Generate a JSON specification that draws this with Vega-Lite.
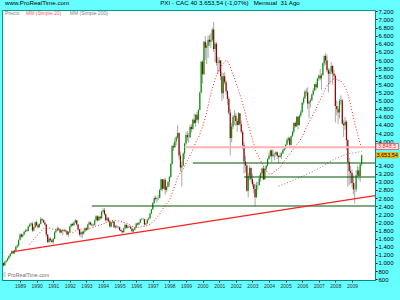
{
  "$schema": "https://vega.github.io/schema/vega-lite/v6.json",
  "autosize": {"type": "none"},
  "padding": {"left": 2, "top": 10, "right": 25, "bottom": 20},
  "width": 373,
  "height": 270,
  "background": "#66FFFF",
  "title": {
    "text": "www.ProRealTime.com\u00a0\u00a0\u00a0\u00a0\u00a0\u00a0\u00a0\u00a0\u00a0\u00a0\u00a0\u00a0\u00a0\u00a0\u00a0\u00a0\u00a0\u00a0\u00a0\u00a0\u00a0\u00a0\u00a0\u00a0\u00a0\u00a0\u00a0\u00a0\u00a0\u00a0\u00a0\u00a0\u00a0\u00a0\u00a0\u00a0\u00a0\u00a0\u00a0\u00a0\u00a0\u00a0\u00a0\u00a0\u00a0\u00a0\u00a0\u00a0\u00a0\u00a0\u00a0\u00a0\u00a0PXI - CAC 40 3.653,54 (-1,07%)\u00a0\u00a0\u00a0Mensual\u00a0 31 Ago",
    "anchor": "start",
    "dx": 3,
    "dy": 6,
    "offset": 2,
    "baseline": "bottom",
    "fontSize": 6.2,
    "fontWeight": "normal",
    "font": "Liberation Sans",
    "color": "#000000"
  },
  "config": {
    "view": {"stroke": "#009999", "fill": "#FFFFFF"},
    "font": "Liberation Sans",
    "axis": {"labelOverlap": false, "labelFlush": false, "grid": false, "tickCount": 100}
  },
  "data": {"values": [
    {"d":"1988-01-01","o":1000,"h":1010,"l":910,"c":940},
    {"d":"1988-02-01","o":940,"h":1040,"l":930,"c":1030},
    {"d":"1988-03-01","o":1030,"h":1080,"l":1010,"c":1060},
    {"d":"1988-04-01","o":1060,"h":1130,"l":1040,"c":1110},
    {"d":"1988-05-01","o":1110,"h":1190,"l":1090,"c":1170},
    {"d":"1988-06-01","o":1170,"h":1250,"l":1150,"c":1230},
    {"d":"1988-07-01","o":1230,"h":1310,"l":1210,"c":1290},
    {"d":"1988-08-01","o":1290,"h":1310,"l":1220,"c":1240},
    {"d":"1988-09-01","o":1240,"h":1330,"l":1220,"c":1310},
    {"d":"1988-10-01","o":1310,"h":1420,"l":1290,"c":1400},
    {"d":"1988-11-01","o":1400,"h":1460,"l":1370,"c":1430},
    {"d":"1988-12-01","o":1430,"h":1580,"l":1410,"c":1573},
    {"d":"1989-01-01","o":1573,"h":1720,"l":1560,"c":1700},
    {"d":"1989-02-01","o":1700,"h":1730,"l":1620,"c":1650},
    {"d":"1989-03-01","o":1650,"h":1720,"l":1630,"c":1700},
    {"d":"1989-04-01","o":1700,"h":1790,"l":1680,"c":1770},
    {"d":"1989-05-01","o":1770,"h":1830,"l":1750,"c":1800},
    {"d":"1989-06-01","o":1800,"h":1840,"l":1760,"c":1790},
    {"d":"1989-07-01","o":1790,"h":1920,"l":1780,"c":1900},
    {"d":"1989-08-01","o":1900,"h":1980,"l":1880,"c":1950},
    {"d":"1989-09-01","o":1950,"h":2000,"l":1920,"c":1970},
    {"d":"1989-10-01","o":1970,"h":2010,"l":1760,"c":1800},
    {"d":"1989-11-01","o":1800,"h":1900,"l":1780,"c":1880},
    {"d":"1989-12-01","o":1880,"h":2020,"l":1860,"c":2001},
    {"d":"1990-01-01","o":2001,"h":2050,"l":1900,"c":1930},
    {"d":"1990-02-01","o":1930,"h":1960,"l":1850,"c":1880},
    {"d":"1990-03-01","o":1880,"h":1980,"l":1870,"c":1960},
    {"d":"1990-04-01","o":1960,"h":2130,"l":1950,"c":2080},
    {"d":"1990-05-01","o":2080,"h":2110,"l":2020,"c":2050},
    {"d":"1990-06-01","o":2050,"h":2080,"l":1980,"c":2000},
    {"d":"1990-07-01","o":2000,"h":2060,"l":1920,"c":1950},
    {"d":"1990-08-01","o":1950,"h":1960,"l":1640,"c":1700},
    {"d":"1990-09-01","o":1700,"h":1720,"l":1490,"c":1520},
    {"d":"1990-10-01","o":1520,"h":1640,"l":1500,"c":1600},
    {"d":"1990-11-01","o":1600,"h":1630,"l":1530,"c":1560},
    {"d":"1990-12-01","o":1560,"h":1590,"l":1490,"c":1518},
    {"d":"1991-01-01","o":1518,"h":1620,"l":1460,"c":1600},
    {"d":"1991-02-01","o":1600,"h":1780,"l":1590,"c":1760},
    {"d":"1991-03-01","o":1760,"h":1840,"l":1740,"c":1800},
    {"d":"1991-04-01","o":1800,"h":1900,"l":1780,"c":1850},
    {"d":"1991-05-01","o":1850,"h":1880,"l":1800,"c":1830},
    {"d":"1991-06-01","o":1830,"h":1850,"l":1730,"c":1750},
    {"d":"1991-07-01","o":1750,"h":1810,"l":1730,"c":1790},
    {"d":"1991-08-01","o":1790,"h":1840,"l":1680,"c":1810},
    {"d":"1991-09-01","o":1810,"h":1850,"l":1770,"c":1800},
    {"d":"1991-10-01","o":1800,"h":1830,"l":1750,"c":1780},
    {"d":"1991-11-01","o":1780,"h":1800,"l":1680,"c":1700},
    {"d":"1991-12-01","o":1700,"h":1780,"l":1640,"c":1766},
    {"d":"1992-01-01","o":1766,"h":1920,"l":1750,"c":1900},
    {"d":"1992-02-01","o":1900,"h":1980,"l":1880,"c":1960},
    {"d":"1992-03-01","o":1960,"h":1990,"l":1900,"c":1930},
    {"d":"1992-04-01","o":1930,"h":2020,"l":1910,"c":2000},
    {"d":"1992-05-01","o":2000,"h":2080,"l":1980,"c":2050},
    {"d":"1992-06-01","o":2050,"h":2060,"l":1920,"c":1950},
    {"d":"1992-07-01","o":1950,"h":1960,"l":1800,"c":1830},
    {"d":"1992-08-01","o":1830,"h":1840,"l":1660,"c":1700},
    {"d":"1992-09-01","o":1700,"h":1800,"l":1640,"c":1760},
    {"d":"1992-10-01","o":1760,"h":1800,"l":1610,"c":1720},
    {"d":"1992-11-01","o":1720,"h":1800,"l":1700,"c":1780},
    {"d":"1992-12-01","o":1780,"h":1880,"l":1760,"c":1858},
    {"d":"1993-01-01","o":1858,"h":1880,"l":1790,"c":1820},
    {"d":"1993-02-01","o":1820,"h":1970,"l":1810,"c":1950},
    {"d":"1993-03-01","o":1950,"h":2030,"l":1930,"c":2000},
    {"d":"1993-04-01","o":2000,"h":2020,"l":1920,"c":1950},
    {"d":"1993-05-01","o":1950,"h":1980,"l":1900,"c":1930},
    {"d":"1993-06-01","o":1930,"h":1970,"l":1900,"c":1940},
    {"d":"1993-07-01","o":1940,"h":2070,"l":1920,"c":2050},
    {"d":"1993-08-01","o":2050,"h":2180,"l":2030,"c":2150},
    {"d":"1993-09-01","o":2150,"h":2170,"l":2020,"c":2050},
    {"d":"1993-10-01","o":2050,"h":2170,"l":2030,"c":2140},
    {"d":"1993-11-01","o":2140,"h":2160,"l":2060,"c":2100},
    {"d":"1993-12-01","o":2100,"h":2280,"l":2090,"c":2268},
    {"d":"1994-01-01","o":2268,"h":2350,"l":2240,"c":2300},
    {"d":"1994-02-01","o":2300,"h":2355,"l":2170,"c":2200},
    {"d":"1994-03-01","o":2200,"h":2220,"l":2020,"c":2050},
    {"d":"1994-04-01","o":2050,"h":2140,"l":2030,"c":2100},
    {"d":"1994-05-01","o":2100,"h":2130,"l":2000,"c":2030},
    {"d":"1994-06-01","o":2030,"h":2050,"l":1870,"c":1900},
    {"d":"1994-07-01","o":1900,"h":2020,"l":1880,"c":2000},
    {"d":"1994-08-01","o":2000,"h":2060,"l":1980,"c":2020},
    {"d":"1994-09-01","o":2020,"h":2030,"l":1860,"c":1880},
    {"d":"1994-10-01","o":1880,"h":1930,"l":1840,"c":1900},
    {"d":"1994-11-01","o":1900,"h":1940,"l":1860,"c":1880},
    {"d":"1994-12-01","o":1880,"h":1910,"l":1840,"c":1881},
    {"d":"1995-01-01","o":1881,"h":1900,"l":1790,"c":1810},
    {"d":"1995-02-01","o":1810,"h":1840,"l":1760,"c":1790},
    {"d":"1995-03-01","o":1790,"h":1800,"l":1720,"c":1760},
    {"d":"1995-04-01","o":1760,"h":1870,"l":1750,"c":1850},
    {"d":"1995-05-01","o":1850,"h":1960,"l":1840,"c":1940},
    {"d":"1995-06-01","o":1940,"h":1950,"l":1850,"c":1870},
    {"d":"1995-07-01","o":1870,"h":1940,"l":1850,"c":1900},
    {"d":"1995-08-01","o":1900,"h":1920,"l":1860,"c":1890},
    {"d":"1995-09-01","o":1890,"h":1920,"l":1830,"c":1850},
    {"d":"1995-10-01","o":1850,"h":1860,"l":1760,"c":1780},
    {"d":"1995-11-01","o":1780,"h":1840,"l":1740,"c":1820},
    {"d":"1995-12-01","o":1820,"h":1890,"l":1800,"c":1872},
    {"d":"1996-01-01","o":1872,"h":1990,"l":1860,"c":1970},
    {"d":"1996-02-01","o":1970,"h":2000,"l":1930,"c":1950},
    {"d":"1996-03-01","o":1950,"h":2010,"l":1930,"c":1990},
    {"d":"1996-04-01","o":1990,"h":2090,"l":1980,"c":2070},
    {"d":"1996-05-01","o":2070,"h":2110,"l":2050,"c":2080},
    {"d":"1996-06-01","o":2080,"h":2120,"l":2050,"c":2080},
    {"d":"1996-07-01","o":2080,"h":2090,"l":1920,"c":1950},
    {"d":"1996-08-01","o":1950,"h":1990,"l":1930,"c":1970},
    {"d":"1996-09-01","o":1970,"h":2090,"l":1960,"c":2070},
    {"d":"1996-10-01","o":2070,"h":2130,"l":2050,"c":2100},
    {"d":"1996-11-01","o":2100,"h":2240,"l":2090,"c":2220},
    {"d":"1996-12-01","o":2220,"h":2330,"l":2200,"c":2316},
    {"d":"1997-01-01","o":2316,"h":2500,"l":2310,"c":2480},
    {"d":"1997-02-01","o":2480,"h":2640,"l":2460,"c":2600},
    {"d":"1997-03-01","o":2600,"h":2660,"l":2540,"c":2580},
    {"d":"1997-04-01","o":2580,"h":2630,"l":2480,"c":2600},
    {"d":"1997-05-01","o":2600,"h":2680,"l":2550,"c":2600},
    {"d":"1997-06-01","o":2600,"h":2830,"l":2590,"c":2800},
    {"d":"1997-07-01","o":2800,"h":3080,"l":2790,"c":3060},
    {"d":"1997-08-01","o":3060,"h":3070,"l":2780,"c":2830},
    {"d":"1997-09-01","o":2830,"h":3080,"l":2820,"c":3050},
    {"d":"1997-10-01","o":3050,"h":3100,"l":2680,"c":2800},
    {"d":"1997-11-01","o":2800,"h":2900,"l":2740,"c":2880},
    {"d":"1997-12-01","o":2880,"h":3010,"l":2860,"c":2999},
    {"d":"1998-01-01","o":2999,"h":3150,"l":2880,"c":3120},
    {"d":"1998-02-01","o":3120,"h":3460,"l":3100,"c":3440},
    {"d":"1998-03-01","o":3440,"h":3900,"l":3420,"c":3880},
    {"d":"1998-04-01","o":3880,"h":3950,"l":3760,"c":3850},
    {"d":"1998-05-01","o":3850,"h":4080,"l":3830,"c":4000},
    {"d":"1998-06-01","o":4000,"h":4130,"l":3900,"c":4100},
    {"d":"1998-07-01","o":4100,"h":4400,"l":4050,"c":4200},
    {"d":"1998-08-01","o":4200,"h":4220,"l":3550,"c":3650},
    {"d":"1998-09-01","o":3650,"h":3750,"l":3250,"c":3350},
    {"d":"1998-10-01","o":3350,"h":3500,"l":2880,"c":3400},
    {"d":"1998-11-01","o":3400,"h":3730,"l":3380,"c":3700},
    {"d":"1998-12-01","o":3700,"h":3960,"l":3560,"c":3943},
    {"d":"1999-01-01","o":3943,"h":4220,"l":3900,"c":4150},
    {"d":"1999-02-01","o":4150,"h":4250,"l":4000,"c":4100},
    {"d":"1999-03-01","o":4100,"h":4200,"l":3960,"c":4100},
    {"d":"1999-04-01","o":4100,"h":4400,"l":4080,"c":4350},
    {"d":"1999-05-01","o":4350,"h":4420,"l":4220,"c":4300},
    {"d":"1999-06-01","o":4300,"h":4560,"l":4280,"c":4530},
    {"d":"1999-07-01","o":4530,"h":4680,"l":4420,"c":4450},
    {"d":"1999-08-01","o":4450,"h":4670,"l":4350,"c":4650},
    {"d":"1999-09-01","o":4650,"h":4720,"l":4480,"c":4530},
    {"d":"1999-10-01","o":4530,"h":4790,"l":4430,"c":4770},
    {"d":"1999-11-01","o":4770,"h":5230,"l":4760,"c":5200},
    {"d":"1999-12-01","o":5200,"h":5980,"l":5180,"c":5958},
    {"d":"2000-01-01","o":5958,"h":6000,"l":5420,"c":5650},
    {"d":"2000-02-01","o":5650,"h":6470,"l":5630,"c":6450},
    {"d":"2000-03-01","o":6450,"h":6590,"l":6000,"c":6300},
    {"d":"2000-04-01","o":6300,"h":6420,"l":5900,"c":6350},
    {"d":"2000-05-01","o":6350,"h":6600,"l":6050,"c":6500},
    {"d":"2000-06-01","o":6500,"h":6620,"l":6350,"c":6450},
    {"d":"2000-07-01","o":6450,"h":6660,"l":6300,"c":6500},
    {"d":"2000-08-01","o":6500,"h":6800,"l":6450,"c":6750},
    {"d":"2000-09-01","o":6750,"h":6944,"l":6200,"c":6270},
    {"d":"2000-10-01","o":6270,"h":6440,"l":5950,"c":6400},
    {"d":"2000-11-01","o":6400,"h":6450,"l":5860,"c":5930},
    {"d":"2000-12-01","o":5930,"h":6080,"l":5650,"c":5926},
    {"d":"2001-01-01","o":5926,"h":6070,"l":5700,"c":5990},
    {"d":"2001-02-01","o":5990,"h":6000,"l":5500,"c":5600},
    {"d":"2001-03-01","o":5600,"h":5700,"l":4990,"c":5180},
    {"d":"2001-04-01","o":5180,"h":5680,"l":5050,"c":5600},
    {"d":"2001-05-01","o":5600,"h":5700,"l":5400,"c":5450},
    {"d":"2001-06-01","o":5450,"h":5500,"l":5150,"c":5230},
    {"d":"2001-07-01","o":5230,"h":5260,"l":4890,"c":5040},
    {"d":"2001-08-01","o":5040,"h":5100,"l":4650,"c":4700},
    {"d":"2001-09-01","o":4700,"h":4800,"l":3650,"c":4080},
    {"d":"2001-10-01","o":4080,"h":4450,"l":3970,"c":4360},
    {"d":"2001-11-01","o":4360,"h":4640,"l":4300,"c":4600},
    {"d":"2001-12-01","o":4600,"h":4760,"l":4400,"c":4625},
    {"d":"2002-01-01","o":4625,"h":4700,"l":4380,"c":4500},
    {"d":"2002-02-01","o":4500,"h":4560,"l":4230,"c":4400},
    {"d":"2002-03-01","o":4400,"h":4720,"l":4390,"c":4690},
    {"d":"2002-04-01","o":4690,"h":4690,"l":4380,"c":4420},
    {"d":"2002-05-01","o":4420,"h":4510,"l":4180,"c":4230},
    {"d":"2002-06-01","o":4230,"h":4270,"l":3800,"c":3900},
    {"d":"2002-07-01","o":3900,"h":3980,"l":3200,"c":3500},
    {"d":"2002-08-01","o":3500,"h":3650,"l":3230,"c":3400},
    {"d":"2002-09-01","o":3400,"h":3440,"l":2750,"c":2780},
    {"d":"2002-10-01","o":2780,"h":3220,"l":2620,"c":3150},
    {"d":"2002-11-01","o":3150,"h":3400,"l":3040,"c":3340},
    {"d":"2002-12-01","o":3340,"h":3360,"l":3000,"c":3064},
    {"d":"2003-01-01","o":3064,"h":3200,"l":2880,"c":2940},
    {"d":"2003-02-01","o":2940,"h":3000,"l":2710,"c":2820},
    {"d":"2003-03-01","o":2820,"h":2950,"l":2400,"c":2620},
    {"d":"2003-04-01","o":2620,"h":3000,"l":2600,"c":2920},
    {"d":"2003-05-01","o":2920,"h":3000,"l":2800,"c":2920},
    {"d":"2003-06-01","o":2920,"h":3170,"l":2900,"c":3080},
    {"d":"2003-07-01","o":3080,"h":3230,"l":3000,"c":3210},
    {"d":"2003-08-01","o":3210,"h":3350,"l":3150,"c":3330},
    {"d":"2003-09-01","o":3330,"h":3400,"l":3040,"c":3060},
    {"d":"2003-10-01","o":3060,"h":3350,"l":3040,"c":3320},
    {"d":"2003-11-01","o":3320,"h":3420,"l":3260,"c":3400},
    {"d":"2003-12-01","o":3400,"h":3580,"l":3370,"c":3558},
    {"d":"2004-01-01","o":3558,"h":3720,"l":3550,"c":3640},
    {"d":"2004-02-01","o":3640,"h":3790,"l":3600,"c":3770},
    {"d":"2004-03-01","o":3770,"h":3800,"l":3480,"c":3630},
    {"d":"2004-04-01","o":3630,"h":3800,"l":3610,"c":3670},
    {"d":"2004-05-01","o":3670,"h":3720,"l":3530,"c":3670},
    {"d":"2004-06-01","o":3670,"h":3760,"l":3620,"c":3730},
    {"d":"2004-07-01","o":3730,"h":3750,"l":3560,"c":3640},
    {"d":"2004-08-01","o":3640,"h":3660,"l":3460,"c":3610},
    {"d":"2004-09-01","o":3610,"h":3720,"l":3590,"c":3640},
    {"d":"2004-10-01","o":3640,"h":3730,"l":3560,"c":3700},
    {"d":"2004-11-01","o":3700,"h":3810,"l":3690,"c":3780},
    {"d":"2004-12-01","o":3780,"h":3850,"l":3750,"c":3821},
    {"d":"2005-01-01","o":3821,"h":3930,"l":3800,"c":3910},
    {"d":"2005-02-01","o":3910,"h":4080,"l":3900,"c":4030},
    {"d":"2005-03-01","o":4030,"h":4110,"l":3980,"c":4070},
    {"d":"2005-04-01","o":4070,"h":4100,"l":3880,"c":3910},
    {"d":"2005-05-01","o":3910,"h":4140,"l":3890,"c":4120},
    {"d":"2005-06-01","o":4120,"h":4260,"l":4110,"c":4230},
    {"d":"2005-07-01","o":4230,"h":4470,"l":4170,"c":4450},
    {"d":"2005-08-01","o":4450,"h":4490,"l":4330,"c":4370},
    {"d":"2005-09-01","o":4370,"h":4620,"l":4350,"c":4600},
    {"d":"2005-10-01","o":4600,"h":4620,"l":4290,"c":4400},
    {"d":"2005-11-01","o":4400,"h":4660,"l":4380,"c":4630},
    {"d":"2005-12-01","o":4630,"h":4770,"l":4580,"c":4715},
    {"d":"2006-01-01","o":4715,"h":4970,"l":4700,"c":4950},
    {"d":"2006-02-01","o":4950,"h":5100,"l":4900,"c":5060},
    {"d":"2006-03-01","o":5060,"h":5260,"l":5040,"c":5220},
    {"d":"2006-04-01","o":5220,"h":5300,"l":5110,"c":5200},
    {"d":"2006-05-01","o":5200,"h":5330,"l":4790,"c":4930},
    {"d":"2006-06-01","o":4930,"h":5000,"l":4570,"c":4970},
    {"d":"2006-07-01","o":4970,"h":5060,"l":4830,"c":5010},
    {"d":"2006-08-01","o":5010,"h":5180,"l":4990,"c":5150},
    {"d":"2006-09-01","o":5150,"h":5310,"l":5120,"c":5250},
    {"d":"2006-10-01","o":5250,"h":5420,"l":5230,"c":5400},
    {"d":"2006-11-01","o":5400,"h":5450,"l":5260,"c":5330},
    {"d":"2006-12-01","o":5330,"h":5560,"l":5300,"c":5542},
    {"d":"2007-01-01","o":5542,"h":5650,"l":5480,"c":5610},
    {"d":"2007-02-01","o":5610,"h":5780,"l":5500,"c":5550},
    {"d":"2007-03-01","o":5550,"h":5680,"l":5270,"c":5630},
    {"d":"2007-04-01","o":5630,"h":5950,"l":5610,"c":5920},
    {"d":"2007-05-01","o":5920,"h":6120,"l":5850,"c":6100},
    {"d":"2007-06-01","o":6100,"h":6168,"l":5880,"c":5990},
    {"d":"2007-07-01","o":5990,"h":6130,"l":5700,"c":5750},
    {"d":"2007-08-01","o":5750,"h":5800,"l":5200,"c":5660},
    {"d":"2007-09-01","o":5660,"h":5790,"l":5400,"c":5720},
    {"d":"2007-10-01","o":5720,"h":5950,"l":5650,"c":5850},
    {"d":"2007-11-01","o":5850,"h":5880,"l":5390,"c":5670},
    {"d":"2007-12-01","o":5670,"h":5750,"l":5530,"c":5614},
    {"d":"2008-01-01","o":5614,"h":5650,"l":4460,"c":4870},
    {"d":"2008-02-01","o":4870,"h":5000,"l":4640,"c":4790},
    {"d":"2008-03-01","o":4790,"h":4860,"l":4430,"c":4710},
    {"d":"2008-04-01","o":4710,"h":5040,"l":4560,"c":4990},
    {"d":"2008-05-01","o":4990,"h":5130,"l":4900,"c":5010},
    {"d":"2008-06-01","o":5010,"h":5050,"l":4400,"c":4430},
    {"d":"2008-07-01","o":4430,"h":4520,"l":4100,"c":4390},
    {"d":"2008-08-01","o":4390,"h":4600,"l":4280,"c":4480},
    {"d":"2008-09-01","o":4480,"h":4520,"l":3780,"c":4030},
    {"d":"2008-10-01","o":4030,"h":4060,"l":2880,"c":3490},
    {"d":"2008-11-01","o":3490,"h":3590,"l":2920,"c":3260},
    {"d":"2008-12-01","o":3260,"h":3390,"l":2950,"c":3218},
    {"d":"2009-01-01","o":3218,"h":3310,"l":2860,"c":2970},
    {"d":"2009-02-01","o":2970,"h":3160,"l":2690,"c":2810},
    {"d":"2009-03-01","o":2810,"h":2970,"l":2465,"c":2810},
    {"d":"2009-04-01","o":2810,"h":3290,"l":2750,"c":3160},
    {"d":"2009-05-01","o":3160,"h":3400,"l":3110,"c":3280},
    {"d":"2009-06-01","o":3280,"h":3370,"l":3050,"c":3140},
    {"d":"2009-07-01","o":3140,"h":3440,"l":3000,"c":3430},
    {"d":"2009-08-01","o":3430,"h":3670,"l":3390,"c":3654}
  ]},
  "layer": [
    {
      "mark": {"type": "rule", "color": "#A8A8A8", "strokeWidth": 1},
      "encoding": {
        "x": {"field": "d", "type": "temporal", "title": null,
          "scale": {"type": "utc", "domain": [{"year": 1987, "month": 12, "date": 1, "utc": true}, {"year": 2010, "month": 5, "date": 22, "utc": true}]},
          "axis": {"orient": "bottom", "format": "%Y", "grid": false, "tickCount": 100,
            "values": [{"year":1989,"month":1,"date":1,"utc":true},{"year":1990,"month":1,"date":1,"utc":true},{"year":1991,"month":1,"date":1,"utc":true},{"year":1992,"month":1,"date":1,"utc":true},{"year":1993,"month":1,"date":1,"utc":true},{"year":1994,"month":1,"date":1,"utc":true},{"year":1995,"month":1,"date":1,"utc":true},{"year":1996,"month":1,"date":1,"utc":true},{"year":1997,"month":1,"date":1,"utc":true},{"year":1998,"month":1,"date":1,"utc":true},{"year":1999,"month":1,"date":1,"utc":true},{"year":2000,"month":1,"date":1,"utc":true},{"year":2001,"month":1,"date":1,"utc":true},{"year":2002,"month":1,"date":1,"utc":true},{"year":2003,"month":1,"date":1,"utc":true},{"year":2004,"month":1,"date":1,"utc":true},{"year":2005,"month":1,"date":1,"utc":true},{"year":2006,"month":1,"date":1,"utc":true},{"year":2007,"month":1,"date":1,"utc":true},{"year":2008,"month":1,"date":1,"utc":true},{"year":2009,"month":1,"date":1,"utc":true}],
            "labelFontSize": 5, "labelColor": "#333333", "labelPadding": 1, "labelOverlap": false, "labelFlush": false,
            "tickSize": 2, "tickColor": "#333333", "domainColor": "#008888"}},
        "y": {"field": "l", "type": "quantitative", "title": null,
          "scale": {"domain": [581, 7232], "nice": false, "zero": false},
          "axis": {"orient": "right", "grid": false, "tickCount": 100,
            "values": [600,800,1000,1200,1400,1600,1800,2000,2200,2400,2600,2800,3000,3200,3400,4000,4200,4400,4600,4800,5000,5200,5400,5600,5800,6000,6200,6400,6600,6800,7000,7200],
            "labelExpr": "replace(format(datum.value, ','), ',', '.')",
            "labelFontSize": 6, "labelColor": "#000000", "labelPadding": 1, "labelOverlap": false, "labelFlush": false,
            "tickSize": 2, "tickColor": "#000000", "domainColor": "#008888"}},
        "y2": {"field": "h"}
      }
    },
    {
      "mark": {"type": "rule", "strokeWidth": 1.2},
      "encoding": {
        "x": {"field": "d", "type": "temporal", "title": null},
        "y": {"field": "o", "type": "quantitative", "title": null},
        "y2": {"field": "c"},
        "color": {"condition": {"test": "datum.c >= datum.o", "value": "#009900"}, "value": "#990000"}
      }
    },
    {
      "transform": [
        {"window": [{"op": "mean", "field": "c", "as": "m20"}, {"op": "count", "field": "c", "as": "n20"}], "frame": [-19, 0], "sort": [{"field": "d"}]},
        {"filter": "datum.n20 == 20"}
      ],
      "mark": {"type": "line", "color": "#FF2020", "strokeWidth": 1, "strokeDash": [1, 2]},
      "encoding": {
        "x": {"field": "d", "type": "temporal", "title": null},
        "y": {"field": "m20", "type": "quantitative", "title": null}
      }
    },
    {
      "transform": [
        {"window": [{"op": "mean", "field": "c", "as": "m200"}, {"op": "count", "field": "c", "as": "n200"}], "frame": [-199, 0], "sort": [{"field": "d"}]},
        {"filter": "datum.n200 == 200"}
      ],
      "mark": {"type": "line", "color": "#808080", "strokeWidth": 1, "strokeDash": [1, 2]},
      "encoding": {
        "x": {"field": "d", "type": "temporal", "title": null},
        "y": {"field": "m200", "type": "quantitative", "title": null}
      }
    },
    {
      "data": {"values": [{"s": "1998-12-01", "e": "2010-05-22", "v": 3848}]},
      "mark": {"type": "rule", "color": "#FFB0B0", "strokeWidth": 2},
      "encoding": {
        "x": {"field": "s", "type": "temporal", "title": null},
        "x2": {"field": "e"},
        "y": {"field": "v", "type": "quantitative", "title": null}
      }
    },
    {
      "data": {"values": [
        {"s": "1999-06-01", "e": "2010-05-22", "v": 3463},
        {"s": "2002-07-01", "e": "2010-05-22", "v": 3118},
        {"s": "1993-05-01", "e": "2010-05-22", "v": 2404}
      ]},
      "mark": {"type": "rule", "color": "#005500", "strokeWidth": 1.2},
      "encoding": {
        "x": {"field": "s", "type": "temporal", "title": null},
        "x2": {"field": "e"},
        "y": {"field": "v", "type": "quantitative", "title": null}
      }
    },
    {
      "data": {"values": [{"s": "1988-07-31", "e": "2010-05-22", "v1": 1278, "v2": 2661}]},
      "mark": {"type": "rule", "color": "#FF2020", "strokeWidth": 1.3},
      "encoding": {
        "x": {"field": "s", "type": "temporal", "title": null},
        "x2": {"field": "e"},
        "y": {"field": "v1", "type": "quantitative", "title": null},
        "y2": {"field": "v2"}
      }
    },
    {
      "data": {"values": [{"t": "Precio"}]},
      "mark": {"type": "text", "align": "left", "baseline": "middle", "fontSize": 5, "color": "#808080"},
      "encoding": {
        "x": {"datum": {"year": 1988, "month": 2, "date": 5, "utc": true}, "type": "temporal"},
        "y": {"datum": 7170, "type": "quantitative"},
        "text": {"field": "t"}
      }
    },
    {
      "data": {"values": [{"t": "MM (Simple 20)"}]},
      "mark": {"type": "text", "align": "left", "baseline": "middle", "fontSize": 5, "color": "#FF6060"},
      "encoding": {
        "x": {"datum": {"year": 1989, "month": 5, "date": 12, "utc": true}, "type": "temporal"},
        "y": {"datum": 7170, "type": "quantitative"},
        "text": {"field": "t"}
      }
    },
    {
      "data": {"values": [{"t": "MM (Simple 200)"}]},
      "mark": {"type": "text", "align": "left", "baseline": "middle", "fontSize": 5, "color": "#808080"},
      "encoding": {
        "x": {"datum": {"year": 1992, "month": 1, "date": 1, "utc": true}, "type": "temporal"},
        "y": {"datum": 7170, "type": "quantitative"},
        "text": {"field": "t"}
      }
    },
    {
      "data": {"values": [{"t": "© ProRealTime.com"}]},
      "mark": {"type": "text", "align": "left", "baseline": "middle", "fontSize": 5.2, "color": "#707070"},
      "encoding": {
        "x": {"datum": {"year": 1987, "month": 12, "date": 10, "utc": true}, "type": "temporal"},
        "y": {"datum": 704, "type": "quantitative"},
        "text": {"field": "t"}
      }
    },
    {
      "data": {"values": [{"t": "3.848,5", "a": "2010-06-13", "b": "2011-10-19", "lo": 3796, "hi": 3943, "m": "2011-02-13", "v": 3870}]},
      "layer": [
        {"mark": {"type": "rect", "fill": "#FFF0F0", "stroke": "#FF4040", "strokeWidth": 0.8},
         "encoding": {"x": {"field": "a", "type": "temporal", "title": null}, "x2": {"field": "b"}, "y": {"field": "lo", "type": "quantitative", "title": null}, "y2": {"field": "hi"}}},
        {"mark": {"type": "text", "fontSize": 5.5, "color": "#FF2020", "baseline": "middle"},
         "encoding": {"x": {"field": "m", "type": "temporal", "title": null}, "y": {"field": "v", "type": "quantitative", "title": null}, "text": {"field": "t"}}}
      ]
    },
    {
      "data": {"values": [{"t": "3.653,54", "a": "2010-06-13", "b": "2011-10-19", "lo": 3586, "hi": 3722, "m": "2011-02-13", "v": 3654}]},
      "layer": [
        {"mark": {"type": "rect", "fill": "#F5C000", "stroke": "#D0A000", "strokeWidth": 0.5},
         "encoding": {"x": {"field": "a", "type": "temporal", "title": null}, "x2": {"field": "b"}, "y": {"field": "lo", "type": "quantitative", "title": null}, "y2": {"field": "hi"}}},
        {"mark": {"type": "text", "fontSize": 5.5, "color": "#000000", "baseline": "middle"},
         "encoding": {"x": {"field": "m", "type": "temporal", "title": null}, "y": {"field": "v", "type": "quantitative", "title": null}, "text": {"field": "t"}}}
      ]
    }
  ]
}
